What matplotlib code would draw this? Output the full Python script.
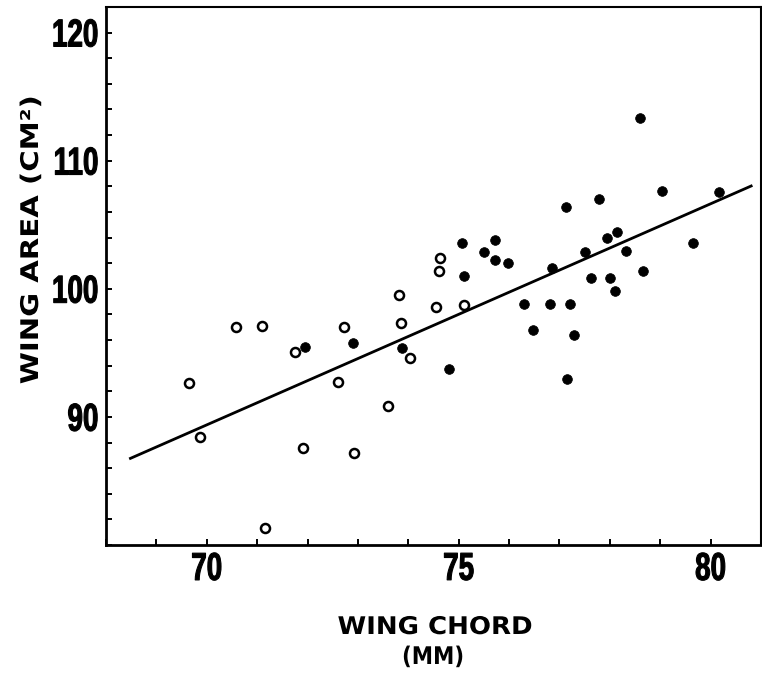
import matplotlib
matplotlib.use("Agg")
import numpy as np
import matplotlib.pyplot as plt
from matplotlib.ticker import MultipleLocator, FixedLocator
from matplotlib.patheffects import AbstractPathEffect
from matplotlib.transforms import Affine2D
from matplotlib.path import Path
from matplotlib.font_manager import FontProperties

# Open circles (one group)
open_chord = [69.64, 69.86, 70.59, 71.10, 71.76, 71.90, 71.15, 72.73, 72.61, 72.93,
              73.60, 73.82, 73.86, 74.04, 74.55, 74.62, 74.61, 75.11]
open_area = [92.67, 88.43, 97.03, 97.08, 95.06, 87.60, 81.36, 96.98, 92.72, 87.16,
             90.85, 99.48, 97.32, 94.61, 98.59, 102.39, 101.40, 98.70]

# Filled circles (other group)
filled_chord = [71.94, 72.90, 73.88, 74.81, 75.07, 75.11, 75.51, 75.72, 75.72, 75.98,
                76.29, 76.48, 76.86, 76.81, 77.13, 77.20, 77.28, 77.14, 77.50, 77.63,
                77.78, 77.94, 78.01, 78.10, 78.14, 78.33, 78.60, 78.66, 79.03, 79.65,
                80.16]
filled_area = [95.42, 95.76, 95.39, 93.71, 103.61, 101.01, 102.91, 103.84, 102.25, 101.98,
               98.80, 96.75, 101.66, 98.85, 106.38, 98.80, 96.38, 92.95, 102.91, 100.85,
               107.04, 103.98, 100.84, 99.79, 104.41, 102.95, 113.37, 101.37, 107.61, 103.59,
               107.53]

# Regression line end points
fit_chord = [68.46, 80.83]
fit_area = [86.72, 108.07]

x_major = [70, 75, 80]
y_major = [90, 100, 110, 120]


class Reshape(AbstractPathEffect):
    """Scale the glyph outline about its own centre (text stays real text)."""

    def __init__(self, sx=1.0, sy=1.0, stroke=0.0):
        super().__init__()
        self.sx, self.sy, self.stroke = sx, sy, stroke

    def draw_path(self, renderer, gc, tpath, affine, rgbFace=None):
        v = tpath.vertices
        if tpath.codes is not None:
            v = v[tpath.codes != Path.CLOSEPOLY]
        if len(v):
            cx = (v[:, 0].min() + v[:, 0].max()) / 2
            cy = (v[:, 1].min() + v[:, 1].max()) / 2
        else:
            cx = cy = 0.0
        t = Affine2D().translate(-cx, -cy).scale(self.sx, self.sy).translate(cx, cy) + affine
        gc0 = renderer.new_gc()
        gc0.copy_properties(gc)
        if self.stroke > 0 and rgbFace is not None:
            gc0.set_linewidth(self.stroke)
            gc0.set_foreground(rgbFace)
            gc0.set_joinstyle("round")
        renderer.draw_path(gc0, tpath, t, rgbFace)
        gc0.restore()


W, H = 762, 675
fig = plt.figure(figsize=(W / 100, H / 100), dpi=100)
ax = fig.add_axes([106 / W, 1 - 545 / H, (761 - 106) / W, (545 - 7) / H])

ax.plot(fit_chord, fit_area, color="black", lw=2.0, solid_capstyle="butt", zorder=2)
ax.plot(filled_chord, filled_area, linestyle="none", marker="o", ms=7.0,
        mfc="black", mec="black", mew=0.5, zorder=3)
ax.plot(open_chord, open_area, linestyle="none", marker="o", ms=6.5,
        mfc="white", mec="black", mew=1.8, zorder=4)

ax.set_xlim(68.0, 81.0)
ax.set_ylim(80.0, 122.0)

ax.xaxis.set_major_locator(FixedLocator(x_major))
ax.xaxis.set_minor_locator(MultipleLocator(1))
ax.yaxis.set_major_locator(FixedLocator(y_major))
ax.yaxis.set_minor_locator(MultipleLocator(2))

ax.tick_params(which="both", direction="in", length=4.5, width=1.4,
               top=False, right=False, color="black")
ax.tick_params(axis="y", which="major", pad=5.5)
ax.tick_params(axis="x", which="major", pad=8)

tick_fp = FontProperties(family="Liberation Sans", weight="bold", size=20)
for lab in ax.get_xticklabels() + ax.get_yticklabels():
    lab.set_fontproperties(tick_fp)
    lab.set_path_effects([Reshape(sx=1.0, sy=1.4, stroke=0.8)])

for side in ["left", "bottom"]:
    ax.spines[side].set_linewidth(2.0)
for side in ["top", "right"]:
    ax.spines[side].set_linewidth(1.5)

label_font = dict(family="DejaVu Sans", weight="bold", size=17.5)

ax.set_ylabel("WING AREA (CM²)", **label_font)
ax.yaxis.set_label_coords((31 - 106) / (761 - 106), (545 - 240) / (545 - 7))
ax.yaxis.label.set_va("center")
ax.yaxis.label.set_path_effects([Reshape(sx=1.2)])

ax.set_xlabel("WING CHORD", **label_font)
ax.xaxis.set_label_coords((435 - 106) / (761 - 106), -(627 - 545) / (545 - 7))
ax.xaxis.label.set_va("center")
ax.xaxis.label.set_path_effects([Reshape(sx=1.07)])

unit = ax.text((433 - 106) / (761 - 106), -(657 - 545) / (545 - 7), "(MM)",
               transform=ax.transAxes, ha="center", va="center", **label_font)
unit.set_path_effects([Reshape(sx=0.88)])

fig.savefig("out.png", dpi=100)
